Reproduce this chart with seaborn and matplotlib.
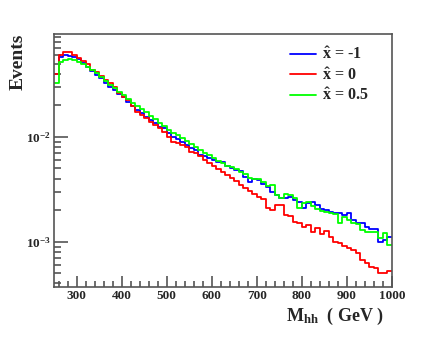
import numpy as np
import pandas as pd
import matplotlib
matplotlib.use("Agg")
import matplotlib.pyplot as plt
from matplotlib.lines import Line2D
from matplotlib.ticker import MultipleLocator, LogLocator, NullFormatter
import seaborn as sns

# bin edges of the M_hh histogram (GeV), 10 GeV bins
bin_lo = 250
bin_hi = 1000
bin_width = 10

# normalised events per bin
events_m1 = [0.0400, 0.0577, 0.0607, 0.0594, 0.0577, 0.0552, 0.0506, 0.0466, 0.0430, 0.0391,
             0.0366, 0.0328, 0.0300, 0.0281, 0.0257, 0.0238, 0.0216, 0.01977, 0.01811, 0.01695,
             0.01563, 0.01454, 0.01360, 0.01254, 0.01211, 0.01092, 0.01007, 0.00957, 0.00902, 0.00839,
             0.00785, 0.00751, 0.00673, 0.00658, 0.00630, 0.00603, 0.00577, 0.00577, 0.00532, 0.00502,
             0.00484, 0.00474, 0.00418, 0.00374, 0.00395, 0.00389, 0.00353, 0.00335, 0.00300, 0.00279,
             0.00263, 0.00263, 0.00269, 0.00250, 0.00241, 0.00211, 0.00234, 0.00241, 0.00224, 0.00204,
             0.00201, 0.00193, 0.00187, 0.00189, 0.00180, 0.00187, 0.00161, 0.00152, 0.00152, 0.00139,
             0.00131, 0.00131, 0.00100, 0.00104, 0.00112]
events_0 = [0.0400, 0.0607, 0.0653, 0.0644, 0.0603, 0.0572, 0.0532, 0.0495, 0.0436, 0.0420,
            0.0382, 0.0350, 0.0326, 0.0298, 0.0261, 0.0243, 0.02256, 0.01977, 0.01745, 0.01622,
            0.01509, 0.01400, 0.01302, 0.01211, 0.01123, 0.00993, 0.00902, 0.00871, 0.00839, 0.00808,
            0.00724, 0.00699, 0.00658, 0.00603, 0.00564, 0.00528, 0.00495, 0.00466, 0.00438, 0.00410,
            0.00380, 0.00348, 0.00326, 0.00305, 0.00286, 0.00269, 0.00256, 0.00210, 0.00201, 0.00224,
            0.00224, 0.00180, 0.00177, 0.00154, 0.00151, 0.00139, 0.00144, 0.00125, 0.00134, 0.00118,
            0.00127, 0.00112, 0.00100, 0.000972, 0.000910, 0.000865, 0.000833, 0.000774, 0.000668, 0.000622,
            0.000577, 0.000561, 0.000506, 0.000506, 0.000525]
events_05 = [0.0326, 0.0520, 0.0544, 0.0552, 0.0540, 0.0520, 0.0498, 0.0469, 0.0436, 0.0404,
             0.0374, 0.0343, 0.0314, 0.0291, 0.0266, 0.0249, 0.0231, 0.02126, 0.01977, 0.01831,
             0.01714, 0.01587, 0.01469, 0.01360, 0.01274, 0.01166, 0.01092, 0.01045, 0.00968, 0.00916,
             0.00857, 0.00794, 0.00751, 0.00708, 0.00673, 0.00630, 0.00590, 0.00561, 0.00532, 0.00520,
             0.00495, 0.00466, 0.00440, 0.00403, 0.00395, 0.00395, 0.00374, 0.00343, 0.00348, 0.00279,
             0.00263, 0.00284, 0.00279, 0.00260, 0.00211, 0.00233, 0.00238, 0.00219, 0.00204, 0.00198,
             0.00193, 0.00189, 0.00184, 0.00152, 0.00173, 0.00161, 0.00150, 0.00148, 0.00129, 0.00125,
             0.00125, 0.00125, 0.00108, 0.00120, 0.00093]

labels = [r"$\hat{\mathbf{x}}$ = -1", r"$\hat{\mathbf{x}}$ = 0", r"$\hat{\mathbf{x}}$ = 0.5"]
colors = ["#0000ff", "#ff0000", "#00ff00"]

n_bins = (bin_hi - bin_lo) // bin_width
centers = np.arange(bin_lo, bin_hi, bin_width) + bin_width / 2

df = pd.concat([
    pd.DataFrame({"mhh": centers, "events": ev, "model": lab})
    for ev, lab in zip([events_m1, events_0, events_05], labels)
])

sns.set_style("ticks")
plt.rcParams["font.family"] = ["Liberation Serif", "DejaVu Serif"]
plt.rcParams["font.weight"] = "bold"
plt.rcParams["mathtext.fontset"] = "custom"
plt.rcParams["mathtext.rm"] = "Liberation Serif:bold"
plt.rcParams["mathtext.bf"] = "Liberation Serif:bold"
plt.rcParams["mathtext.it"] = "Liberation Serif:bold"

fig = plt.figure(figsize=(4.36, 3.54), dpi=100)
ax = fig.add_axes([54 / 436, 1 - 287 / 354, 338 / 436, 253 / 354])

sns.histplot(data=df, x="mhh", weights="events", hue="model",
             bins=n_bins, binrange=(bin_lo, bin_hi),
             element="step", fill=False, palette=dict(zip(labels, colors)),
             hue_order=labels[::-1], linewidth=1.3, legend=False, ax=ax)

ax.set_yscale("log")
ax.set_xlim(bin_lo, bin_hi)
ax.set_ylim(3.7e-4, 0.096)

# ROOT-like frame and ticks
for sp in ax.spines.values():
    sp.set_color("#555555")
    sp.set_linewidth(1.2)
ax.xaxis.set_major_locator(MultipleLocator(100))
ax.xaxis.set_minor_locator(MultipleLocator(20))
ax.yaxis.set_major_locator(LogLocator(base=10))
ax.yaxis.set_minor_locator(LogLocator(base=10, subs=np.arange(2, 10)))
ax.yaxis.set_minor_formatter(NullFormatter())
ax.tick_params(which="both", direction="in", top=False, right=False, color="#555555", width=1.2)
ax.tick_params(which="major", length=8, labelsize=9.5, pad=2.5)
ax.tick_params(which="minor", length=4)
ax.tick_params(axis="y", which="major", length=10)
ax.tick_params(axis="y", which="minor", length=5)

ax.set_ylabel("Events", fontsize=14, fontweight="bold", loc="top")
ax.yaxis.set_label_coords(-0.08, 1.0)
ax.set_xlabel(r"$\mathbf{M}_{\mathbf{hh}}$  ( GeV )", fontsize=13, fontweight="bold", loc="right")
ax.xaxis.set_label_coords(0.975, -0.075)

handles = [Line2D([], [], color=c, lw=1.3) for c in colors]
ax.legend(handles, labels, loc="upper left", bbox_to_anchor=(0.68, 0.975), frameon=False,
          fontsize=11.5, handlelength=1.6, handletextpad=0.4, labelspacing=0.25,
          borderaxespad=0)

fig.savefig("out.png", dpi=100)
